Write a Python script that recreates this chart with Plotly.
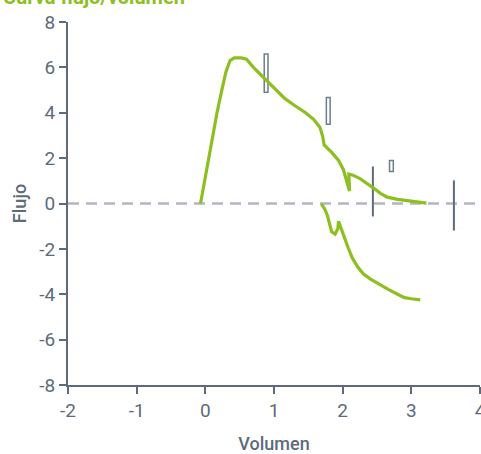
import plotly.graph_objects as go

# Expiratory limb of the flow/volume loop
exp_vol = [-0.07, 0.0, 0.05, 0.1, 0.17, 0.24, 0.3, 0.36, 0.42, 0.52, 0.6, 0.7, 0.87, 1.0,
           1.16, 1.3, 1.46, 1.58, 1.67, 1.71, 1.73, 1.84, 1.94, 2.01, 2.06, 2.10, 2.09,
           2.15, 2.25, 2.35, 2.45, 2.55, 2.65, 2.8, 2.95, 3.1, 3.22]
exp_flow = [0.0, 1.2, 2.1, 2.8, 4.0, 5.0, 5.8, 6.3, 6.42, 6.42, 6.36, 6.0, 5.5, 5.08,
            4.62, 4.32, 4.0, 3.7, 3.35, 2.95, 2.58, 2.25, 1.9, 1.5, 1.0, 0.55, 1.3,
            1.25, 1.1, 0.9, 0.68, 0.45, 0.28, 0.18, 0.12, 0.06, 0.02]

# Inspiratory limb
insp_vol = [1.69, 1.74, 1.78, 1.81, 1.84, 1.89, 1.93, 1.94, 1.97, 2.02, 2.08, 2.14, 2.22,
            2.3, 2.4, 2.52, 2.67, 2.8, 2.9, 3.0, 3.13]
insp_flow = [-0.02, -0.25, -0.55, -0.95, -1.25, -1.35, -1.1, -0.78, -1.0, -1.45, -1.95,
             -2.4, -2.8, -3.1, -3.32, -3.55, -3.8, -4.0, -4.15, -4.2, -4.25]

# Reference ranges (hollow boxes)
box_vol = [0.885, 1.79, 2.71]
box_low = [4.9, 3.49, 1.41]
box_high = [6.59, 4.67, 1.9]

# Reference markers (vertical bars)
mark_vol = [2.44, 3.62]
mark_low = [-0.57, -1.19]
mark_high = [1.63, 1.02]

x_ticks = [-2, -1, 0, 1, 2, 3, 4]
x_labels = ["-2", "-1", "0", "1", "2", "3", "4"]
y_ticks = [-8, -6, -4, -2, 0, 2, 4, 6, 8]
y_labels = ["-8", "-6", "-4", "-2", "0", "2", "4", "6", "8"]

GREEN = "#8cbf1f"
AXIS = "#5d6b7c"
FONT = "Roboto"

fig = go.Figure()

fig.add_trace(go.Bar(
    x=box_vol, y=[h - l for h, l in zip(box_high, box_low)], base=box_low,
    width=0.055, marker=dict(color="white", line=dict(color="#6e7d8e", width=1.5)),
    hoverinfo="skip", showlegend=False,
))

mx, my = [], []
for v, lo, hi in zip(mark_vol, mark_low, mark_high):
    mx += [v, v, None]
    my += [lo, hi, None]
fig.add_trace(go.Scatter(x=mx, y=my, mode="lines",
                         line=dict(color=AXIS, width=2), showlegend=False))

fig.add_trace(go.Scatter(x=exp_vol, y=exp_flow, mode="lines",
                         line=dict(color=GREEN, width=3.2), showlegend=False))
fig.add_trace(go.Scatter(x=insp_vol, y=insp_flow, mode="lines",
                         line=dict(color=GREEN, width=3.2), showlegend=False))

# Dashed zero-flow baseline
fig.add_shape(type="line", xref="paper", yref="y", x0=0, x1=1, y0=0, y1=0,
              line=dict(color="#b3b5c3", width=2.5, dash="11px,7px"), layer="below")

fig.add_annotation(text="<b>Curva flujo/volumen</b>", xref="paper", yref="paper",
                   x=-0.163, y=1, xanchor="left", yanchor="bottom", yshift=11,
                   showarrow=False, font=dict(family=FONT, size=20, color=GREEN))

axis_common = dict(showgrid=False, zeroline=False, showline=True, linecolor=AXIS,
                   linewidth=2, ticks="outside", ticklen=7, tickwidth=2, tickcolor=AXIS,
                   ticklabeloverflow="allow", automargin=False,
                   tickfont=dict(family=FONT, size=19, color=AXIS))

fig.update_layout(
    width=481, height=454,
    margin=dict(l=68, r=1, t=22, b=69, autoexpand=False),
    plot_bgcolor="white", paper_bgcolor="white",
    barmode="overlay",
    xaxis=dict(range=[-2, 4], tickvals=x_ticks, ticktext=x_labels,
               title=dict(text="Volumen", standoff=19,
                          font=dict(family=FONT, size=18, color=AXIS, weight=500)),
               **axis_common),
    yaxis=dict(range=[-8, 8], tickvals=y_ticks, ticktext=y_labels,
               title=dict(text="Flujo", standoff=8,
                          font=dict(family=FONT, size=18, color=AXIS, weight=500)),
               **axis_common),
)

fig.write_html("out.html")
